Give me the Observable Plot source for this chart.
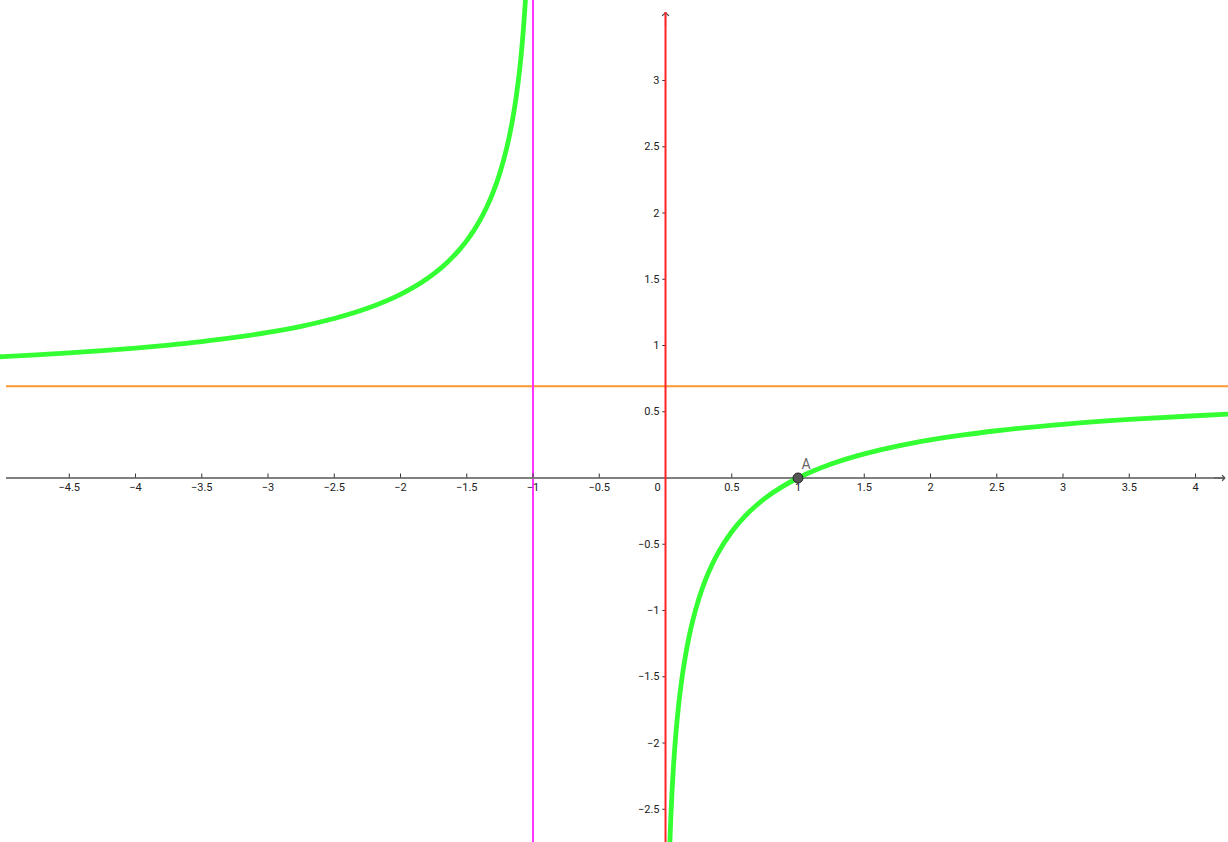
<!DOCTYPE html>
<html>
<head>
<meta charset="utf-8">
<script src="https://cdn.jsdelivr.net/npm/d3@7"></script>
<script src="https://cdn.jsdelivr.net/npm/@observablehq/plot@0.6"></script>
<style>
  html, body { margin: 0; padding: 0; background: #fff; }
  svg { display: block; }
</style>
</head>
<body>
<div id="chart"></div>
<script>
// Curve points (left branch, x < -1)
const leftX = [-5.05, -5, -4.75, -4.5, -4.25, -4, -3.75, -3.5, -3.25, -3, -2.75, -2.5, -2.25, -2, -1.9, -1.8, -1.75, -1.7, -1.65, -1.6, -1.55, -1.5, -1.45, -1.4, -1.35, -1.3, -1.25, -1.2, -1.175, -1.15, -1.125, -1.1, -1.09, -1.08, -1.07, -1.06, -1.055];
const leftY = [0.9138, 0.9163, 0.9295, 0.9445, 0.9614, 0.9808, 1.0033, 1.0296, 1.0609, 1.0986, 1.1451, 1.2040, 1.2809, 1.3863, 1.4404, 1.5041, 1.5404, 1.5805, 1.6247, 1.6740, 1.7292, 1.7918, 1.8632, 1.9459, 2.0431, 2.1595, 2.3026, 2.4849, 2.5974, 2.7300, 2.8904, 3.0910, 3.1874, 3.2958, 3.4201, 3.5649, 3.6472];
// Curve points (right branch, x > 0)
const rightX = [0.03, 0.035, 0.04, 0.05, 0.06, 0.075, 0.09, 0.1, 0.125, 0.15, 0.175, 0.2, 0.25, 0.3, 0.35, 0.4, 0.5, 0.6, 0.7, 0.75, 0.875, 1, 1.25, 1.5, 1.75, 2, 2.25, 2.5, 3, 3.5, 4, 4.3];
const rightY = [-2.8429, -2.6936, -2.5649, -2.3514, -2.1785, -1.9694, -1.8010, -1.7047, -1.5041, -1.3437, -1.2111, -1.0986, -0.9163, -0.7732, -0.6568, -0.5596, -0.4055, -0.2877, -0.1942, -0.1542, -0.0690, 0, 0.1054, 0.1823, 0.2412, 0.2877, 0.3254, 0.3567, 0.4055, 0.4418, 0.4700, 0.4840];
// Asymptotes
const vAsymptote = [-1];
const hAsymptote = [0.693];
// Point A
const pointA = [{x: 1, y: 0, label: "A"}];
// Tick values
const xTicks = [-4.5, -4, -3.5, -3, -2.5, -2, -1.5, -1, -0.5, 0.5, 1, 1.5, 2, 2.5, 3, 3.5, 4];
const yTicks = [-2.5, -2, -1.5, -1, -0.5, 0.5, 1, 1.5, 2, 2.5, 3];

const left = leftX.map((x, i) => ({x, y: leftY[i]}));
const right = rightX.map((x, i) => ({x, y: rightY[i]}));
const fmt = d => (d < 0 ? "\u2212" : "") + Math.abs(d);

const xMin = -5.019, xMax = 4.249, yMin = -2.751, yMax = 3.604;
const axisLeft = -4.974, axisRight = 4.222, yTop = 3.513;

const chart = Plot.plot({
  width: 1228,
  height: 842,
  margin: 0,
  x: {domain: [xMin, xMax], axis: null},
  y: {domain: [yMin, yMax], axis: null},
  style: {fontFamily: "Roboto, 'Liberation Sans', sans-serif", background: "#fff"},
  marks: [
    // horizontal asymptote
    Plot.ruleY(hAsymptote, {x1: axisLeft, x2: xMax, stroke: "#ff9933", strokeWidth: 2}),
    // vertical asymptote
    Plot.ruleX(vAsymptote, {y1: yMin, y2: yMax, stroke: "#ff33ff", strokeWidth: 2}),
    // x axis
    Plot.ruleY([0], {x1: axisLeft, x2: axisRight, stroke: "#808080", strokeWidth: 2}),
    Plot.arrow([0], {x1: axisRight - 0.08, x2: axisRight, y1: 0, y2: 0, stroke: "#555", strokeWidth: 1.2, headLength: 6, headAngle: 90}),
    // x ticks
    Plot.ruleX(xTicks, {y1: 0, y2: 0.03, stroke: "#333", strokeWidth: 1}),
    Plot.text(xTicks, {x: d => d, y: 0, dy: 9, text: fmt, fontSize: 11, fill: "#222"}),
    Plot.text([0], {x: 0, y: 0, dx: -8, dy: 9, text: d => "0", fontSize: 11, fill: "#222"}),
    // y ticks
    Plot.ruleY(yTicks, {x1: -0.02, x2: 0, stroke: "#333", strokeWidth: 1}),
    Plot.text(yTicks, {x: 0, y: d => d, dx: -6, text: fmt, textAnchor: "end", fontSize: 11, fill: "#222"}),
    // y axis arrow head + red axis
    Plot.arrow([0], {x1: 0, x2: 0, y1: yTop - 0.1, y2: yTop, stroke: "#444", strokeWidth: 1.2, headLength: 7, headAngle: 90}),
    Plot.ruleX([0], {y1: yMin, y2: yTop, stroke: "#ff2222", strokeWidth: 2}),
    // function branches
    Plot.line(left, {x: "x", y: "y", stroke: "#33ff33", strokeWidth: 4.8, curve: "monotone-x", clip: true}),
    Plot.line(right, {x: "x", y: "y", stroke: "#33ff33", strokeWidth: 4.8, curve: "monotone-x", clip: true}),
    // point A
    Plot.dot(pointA, {x: "x", y: "y", r: 5, fill: "#555", stroke: "#222", strokeWidth: 1}),
    Plot.text(pointA, {x: "x", y: "y", text: "label", dx: 8, dy: -13, fontSize: 14, fill: "#666"})
  ]
});
document.getElementById("chart").append(chart);
</script>
</body>
</html>
